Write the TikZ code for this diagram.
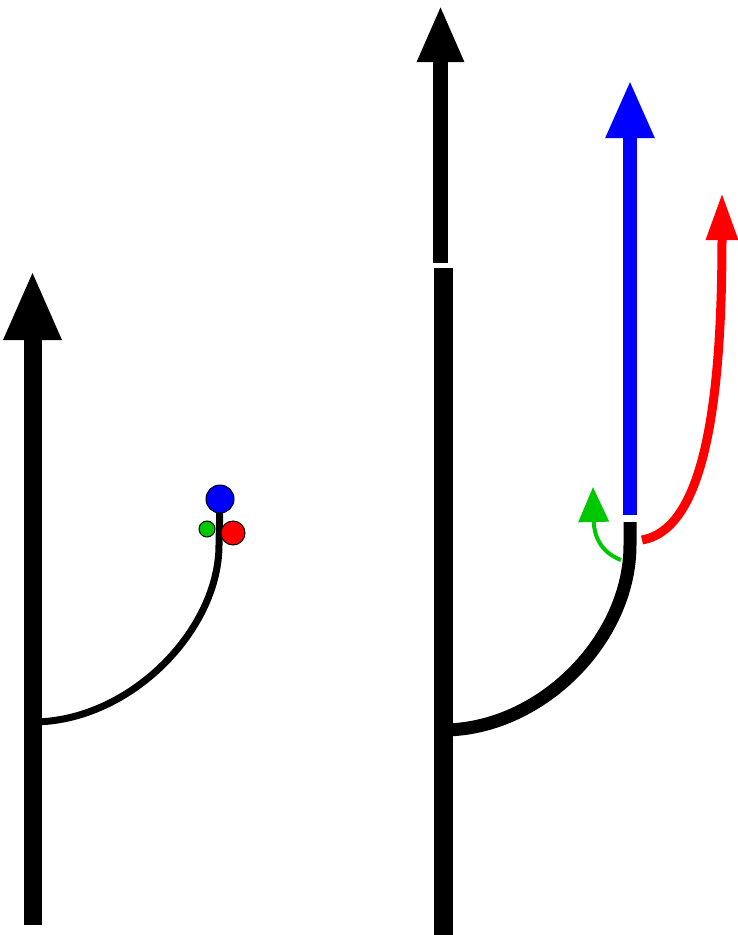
\documentclass[tikz,border=0pt]{standalone}
\usetikzlibrary{arrows.meta}
\definecolor{stemblue}{RGB}{0,0,255}
\definecolor{stemred}{RGB}{255,0,0}
\definecolor{stemgreen}{RGB}{0,200,0}
\tikzset{
  tree trunk/.style={line cap=butt,draw=black},
  tree branch/.style={line cap=butt,draw=black},
  tree bud/.style={draw=black,line width=1pt}
}

\begin{document}
\begin{tikzpicture}[x=1pt,y=-1pt]
    \useasboundingbox (0,0) rectangle (738,935);
    % left: trunk, branch and buds
    \coordinate (L0) at (32.5,925);
    \coordinate (L1) at (32.5,270);
    \coordinate (LF) at (32.5,722);
    \coordinate (LT) at (220,499);
    \draw[tree trunk,line width=18pt,-{Triangle[width=53pt,length=70pt]}] (L0)--(L1);
    \draw[tree branch,line width=7pt] (LF) .. controls (130,722) and (219,630) .. (219,545)--(LT);
    \fill[stemblue] (LT) circle (14);
    \draw[tree bud] (LT) circle (14);
    \filldraw[tree bud,fill=stemgreen] (207,529) circle (8);
    \filldraw[tree bud,fill=stemred] (233,533) circle (12);
    % right: trunk in two pieces
    \coordinate (R0) at (443,935);
    \coordinate (R1) at (443,268);
    \coordinate (R2) at (440.5,263);
    \coordinate (R3) at (440.5,5);
    \draw[tree trunk,line width=19pt] (R0)--(R1);
    \draw[tree trunk,line width=15pt,-{Triangle[width=43pt,length=57pt]}] (R2)--(R3);
    % right: grown branch
    \coordinate (RF) at (443,730);
    \coordinate (RT) at (630,522);
    \draw[tree branch,line width=13pt] (RF) .. controls (540,730) and (630,640) .. (630,545)--(RT);
    \draw[stemblue,line width=14pt,-{Triangle[width=45pt,length=58pt]}] (630,515)--(630,80);
    \draw[stemgreen,line width=4pt,-{Triangle[width=30pt,length=35pt]}] (621,560) .. controls (600,552) and (594,535) .. (593,487);
    \draw[stemred,line width=9pt,-{Triangle[width=30pt,length=47pt]}] (642,540) .. controls (700,530) and (722,420) .. (722,193);
\end{tikzpicture}
\end{document}
